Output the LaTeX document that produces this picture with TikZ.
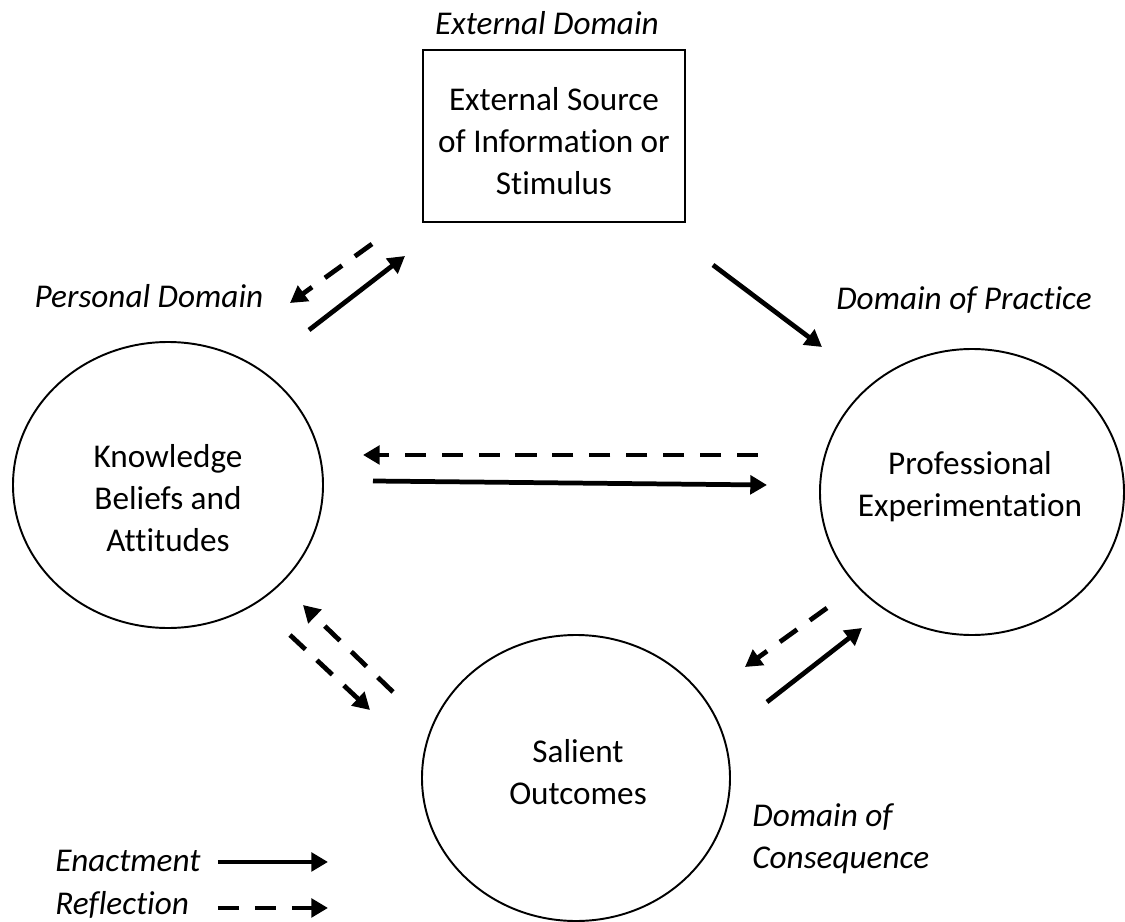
\documentclass[tikz,border=0pt]{standalone}
\usepackage{fontspec}
\setmainfont{Carlito}[Ligatures={NoCommon}]
\usetikzlibrary{arrows.meta}

\begin{document}
\begin{tikzpicture}[scale=0.2,
  enact/.style={line width=2.7pt,-{Triangle[length=9.5pt,width=10.5pt]}},
  reflect/.style={enact,dash pattern=on 12pt off 9pt},
  label/.style={font=\fontsize{18.9}{23.8}\selectfont\itshape,inner sep=0pt},
  body/.style={font=\fontsize{18.9}{23.8}\selectfont,align=center,inner sep=0pt}]
\useasboundingbox (0,0) rectangle (112.5,-92.2);
\draw [black,line width=1.1pt] (42.3,-5) rectangle (68.5,-22.2);
\draw (55.4,-14.1) node [body] (src) {External Source\\of Information or\\Stimulus};
\draw [black,line width=1.1pt] (16.8,-48.5) ellipse (15.5 and 14.3);
\draw (16.8,-49.8) node [body] (kba) {Knowledge\\Beliefs and\\Attitudes};
\draw [black,line width=1.1pt] (97.2,-49.2) ellipse (15.2 and 14.3);
\draw (97.0,-48.7) node [body] (pe) {Professional\\Experimentation};
\draw [black,line width=1.1pt] (57.6,-77.8) ellipse (15.4 and 14.3);
\draw (57.8,-77.2) node [body] (so) {Salient\\Outcomes};
\draw (54.7,-2.3) node [label] (extd) {External Domain};
\draw (14.9,-29.6) node [label] (persd) {Personal Domain};
\draw (96.4,-30.0) node [label] (pracd) {Domain of Practice};
\draw (75.2,-83.9) node [label,align=left,anchor=west] (consd) {Domain of\\Consequence};
\draw (5.5,-86.1) node [label,anchor=west] (enl) {Enactment};
\draw (5.5,-90.5) node [label,anchor=west] (refl) {Reflection};
\coordinate (a1) at (37.2,-24.4);
\coordinate (b1) at (29.0,-30.3);
\coordinate (a2) at (30.9,-33.0);
\coordinate (b2) at (40.5,-25.6);
\coordinate (a3) at (71.3,-26.5);
\coordinate (b3) at (82.2,-34.7);
\coordinate (a4) at (75.8,-45.5);
\coordinate (b4) at (36.3,-45.5);
\coordinate (a5) at (37.3,-48.1);
\coordinate (b5) at (76.7,-48.5);
\coordinate (a6) at (39.3,-69.2);
\coordinate (b6) at (30.3,-60.5);
\coordinate (a7) at (29.0,-63.5);
\coordinate (b7) at (37.0,-71.0);
\coordinate (a8) at (82.7,-60.8);
\coordinate (b8) at (74.5,-66.7);
\coordinate (a9) at (76.7,-70.2);
\coordinate (b9) at (86.2,-62.8);
\coordinate (a10) at (21.8,-86.2);
\coordinate (b10) at (32.8,-86.2);
\coordinate (a11) at (21.8,-90.8);
\coordinate (b11) at (32.8,-90.8);
\draw [reflect] (a1) -- (b1);
\draw [enact] (a2) -- (b2);
\draw [enact] (a3) -- (b3);
\draw [reflect] (a4) -- (b4);
\draw [enact] (a5) -- (b5);
\draw [reflect] (a6) -- (b6);
\draw [reflect] (a7) -- (b7);
\draw [reflect] (a8) -- (b8);
\draw [enact] (a9) -- (b9);
\draw [enact] (a10) -- (b10);
\draw [reflect] (a11) -- (b11);
\end{tikzpicture}
\end{document}
